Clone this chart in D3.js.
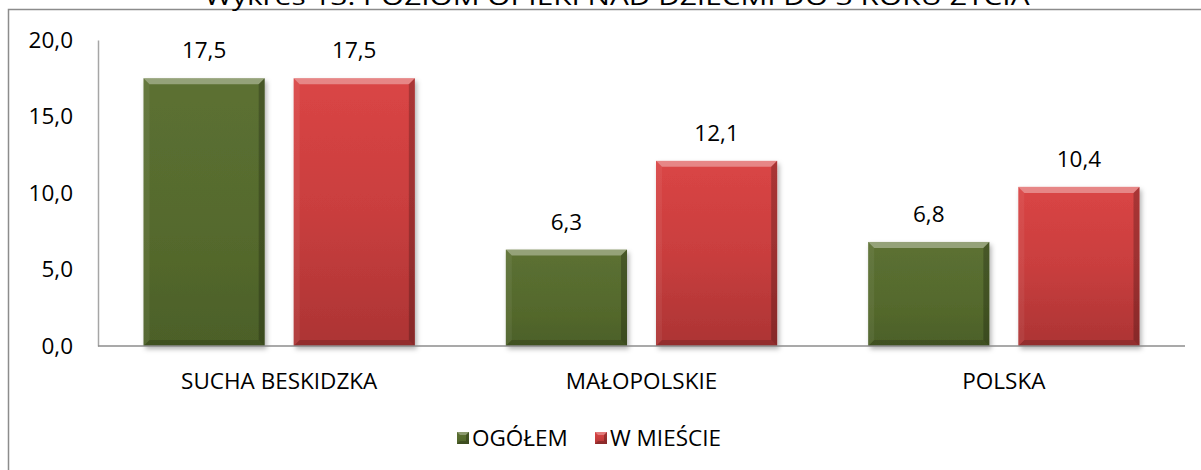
<!DOCTYPE html>
<html><head><meta charset="utf-8">
<script src="https://cdn.jsdelivr.net/npm/d3@7"></script>
<style>
html,body{margin:0;padding:0;background:#fff;}
svg{display:block;font-family:"Open Sans",sans-serif;}
</style></head>
<body><svg id="c" width="1201" height="470"></svg>
<script>
const title = "Wykres 13. POZIOM OPIEKI NAD DZIEĆMI DO 3 ROKU ŻYCIA";
const categories = ["SUCHA BESKIDZKA", "MAŁOPOLSKIE", "POLSKA"];
const seriesNames = ["OGÓŁEM", "W MIEŚCIE"];
const ogolem = [17.5, 6.3, 6.8];
const wMiescie = [17.5, 12.1, 10.4];
const yTicks = [0, 5, 10, 15, 20];

const seriesValues = [ogolem, wMiescie];
const colors = {
  "OGÓŁEM": ["#5c7032", "#566b2e", "#4c6028"],
  "W MIEŚCIE": ["#da4545", "#c93e3e", "#ac3434"]
};
const fmt = v => d3.format(".1f")(v).replace(".", ",");
const FS = 22.5;

const svg = d3.select("#c");
const defs = svg.append("defs");
seriesNames.forEach((s, i) => {
  const g = defs.append("linearGradient").attr("id", "g" + i)
    .attr("x1", 0).attr("y1", 0).attr("x2", 0).attr("y2", 1);
  g.append("stop").attr("offset", "0%").attr("stop-color", colors[s][0]);
  g.append("stop").attr("offset", "50%").attr("stop-color", colors[s][1]);
  g.append("stop").attr("offset", "100%").attr("stop-color", colors[s][2]);
});
const f = defs.append("filter").attr("id", "sh").attr("x", "-10%").attr("y", "-10%").attr("width", "130%").attr("height", "130%");
f.append("feDropShadow").attr("dx", 2).attr("dy", 3).attr("stdDeviation", 2.5).attr("flood-color", "#000").attr("flood-opacity", 0.3);

// outer frame (extends beyond window on right/bottom)
svg.append("rect").attr("x", 8.5).attr("y", 9.5).attr("width", 1300).attr("height", 600)
  .attr("fill", "none").attr("stroke", "#8c8c8c").attr("stroke-width", 1.5);

// title (sits above the frame, partly outside the window as in the reference)
svg.append("text").attr("x", 617).attr("y", 5).attr("text-anchor", "middle")
  .attr("font-size", 24).attr("fill", "#000")
  .attr("textLength", 825).attr("lengthAdjust", "spacingAndGlyphs")
  .text(title);

const x0 = d3.scaleBand().domain(categories).range([98, 1185]).padding(0);
const x1 = d3.scaleBand().domain(seriesNames).range([0, x0.bandwidth()])
  .paddingInner(0.193).paddingOuter(0.303);
const y = d3.scaleLinear().domain([0, 20]).range([346, 40]);

// y axis
const yAxis = d3.axisLeft(y).tickValues(yTicks).tickFormat(fmt).tickSize(0).tickPadding(25);
const ya = svg.append("g").attr("transform", "translate(98,0)").call(yAxis);
ya.select(".domain").attr("stroke", "#a6a6a6").attr("stroke-width", 1.5);
ya.selectAll("text").attr("font-size", FS).attr("fill", "#000").attr("font-family", "Open Sans");

// bars
const bevel = 6;
categories.forEach((c, ci) => {
  seriesNames.forEach((s, si) => {
    const v = seriesValues[si][ci];
    const bx = x0(c) + x1(s), bw = x1.bandwidth();
    const by = y(v), bh = y(0) - y(v);
    const g = svg.append("g");
    g.append("rect").attr("x", bx).attr("y", by).attr("width", bw).attr("height", bh)
      .attr("fill", "url(#g" + si + ")").attr("filter", "url(#sh)");
    const b = Math.min(bevel, bh / 2);
    const X0 = bx, X1 = bx + bw, Y0 = by, Y1 = by + bh;
    const poly = (pts, fill, op) => g.append("polygon").attr("points", pts.map(p => p.join(",")).join(" "))
      .attr("fill", fill).attr("fill-opacity", op);
    poly([[X0, Y0], [X1, Y0], [X1 - b, Y0 + b], [X0 + b, Y0 + b]], "#fff", 0.35);
    poly([[X0, Y0], [X0 + b, Y0 + b], [X0 + b, Y1 - b], [X0, Y1]], "#fff", 0.06);
    poly([[X1, Y0], [X1, Y1], [X1 - b, Y1 - b], [X1 - b, Y0 + b]], "#000", 0.22);
    poly([[X0, Y1], [X0 + b, Y1 - b], [X1 - b, Y1 - b], [X1, Y1]], "#000", 0.15);
    svg.append("text").attr("x", bx + bw / 2).attr("y", by - 20)
      .attr("text-anchor", "middle").attr("font-size", FS).attr("fill", "#000")
      .text(fmt(v));
  });
});

// x baseline
svg.append("line").attr("x1", 98).attr("x2", 1185).attr("y1", y(0)).attr("y2", y(0))
  .attr("stroke", "#8c8c8c").attr("stroke-width", 1.5);

// x axis labels
const xAxis = d3.axisBottom(x0).tickSize(0).tickPadding(27);
const xa = svg.append("g").attr("transform", `translate(0,${y(0)})`).call(xAxis);
xa.select(".domain").remove();
xa.selectAll("text").attr("font-size", FS).attr("fill", "#000").attr("font-family", "Open Sans");

// legend
const legendItems = [{ name: seriesNames[0], x: 457, i: 0 }, { name: seriesNames[1], x: 595, i: 1 }];
legendItems.forEach(d => {
  const s = 12, lx = d.x, ly = 432;
  const g = svg.append("g");
  g.append("rect").attr("x", lx).attr("y", ly).attr("width", s).attr("height", s).attr("fill", "url(#g" + d.i + ")");
  const b = 3;
  const poly = (pts, fill, op) => g.append("polygon").attr("points", pts.map(p => p.join(",")).join(" "))
    .attr("fill", fill).attr("fill-opacity", op);
  poly([[lx, ly], [lx + s, ly], [lx + s - b, ly + b], [lx + b, ly + b]], "#fff", 0.3);
  poly([[lx + s, ly], [lx + s, ly + s], [lx + s - b, ly + s - b], [lx + s - b, ly + b]], "#000", 0.25);
  poly([[lx, ly + s], [lx + b, ly + s - b], [lx + s - b, ly + s - b], [lx + s, ly + s]], "#000", 0.2);
  svg.append("text").attr("x", lx + s + 3).attr("y", ly + s / 2).attr("dy", "0.36em")
    .attr("font-size", FS).attr("fill", "#000").text(d.name);
});
</script></body></html>
